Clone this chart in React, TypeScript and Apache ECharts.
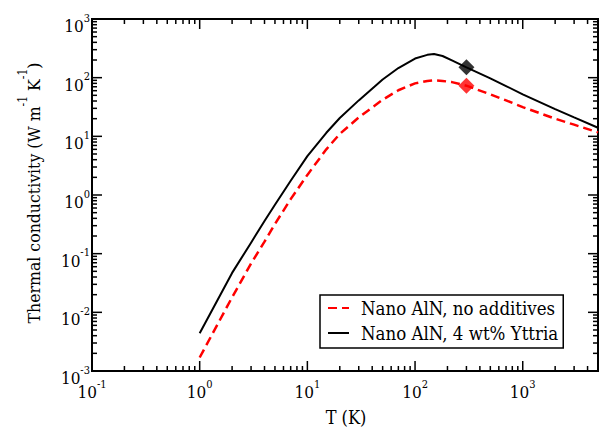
import React, { useEffect, useRef } from "react";
import * as echarts from "echarts";

// ---- Data ----
const temperatureK = [1, 2, 3, 4, 5, 7, 10, 15, 20, 30, 50, 70, 100, 130, 150, 180, 220, 300, 500, 700, 1000, 2000, 3000, 5000];
const kappaNoAdditives = [0.0017, 0.018, 0.068, 0.16, 0.32, 0.85, 2.2, 6.0, 11, 21, 42, 61, 80, 88, 90, 88, 84, 73, 52, 41, 31.5, 20, 15.8, 11.7];
const kappaYttria = [0.0044, 0.047, 0.154, 0.36, 0.68, 1.75, 4.6, 11.5, 20.5, 41, 93, 146, 212, 245, 253, 234, 197, 150, 97, 72, 52, 29, 21, 14];
const markerT = [300];
const markerNoAdditives = [73];
const markerYttria = [150];
const seriesNames = ["Nano AlN, no additives", "Nano AlN, 4 wt% Yttria"];
const xMajorTicks = [0.1, 1, 10, 100, 1000];
const yMajorTicks = [0.001, 0.01, 0.1, 1, 10, 100, 1000];
const minorMultipliers = [2, 3, 4, 5, 6, 7, 8, 9];
const X_MIN = 0.1;
const X_MAX = 5000;
const Y_MIN = 0.001;
const Y_MAX = 1000;
const xTitle = "T (K)";
const yTitle = "Thermal conductivity (W m{s|-1} K{s|-1})";

const FONT = "DejaVu Serif Condensed, DejaVu Serif";
const MAJOR_LEN = 10;
const MINOR_LEN = 5;

const xMinorTicks = xMajorTicks.flatMap((d) => minorMultipliers.map((m) => d * m)).filter((v) => v < X_MAX);
const yMinorTicks = yMajorTicks.slice(0, -1).flatMap((d) => minorMultipliers.map((m) => d * m));

const powerLabel = (v: number) => {
  const e = Math.round(Math.log10(v));
  if (Math.abs(v / Math.pow(10, e) - 1) > 1e-6) return "";
  return `{b|10}{s|${e}}`;
};

const labelRich = {
  b: { fontSize: 17, fontFamily: FONT, fontStyle: "normal", fontWeight: "normal", fill: "#000", lineHeight: 20 },
  s: { fontSize: 11, fontFamily: FONT, fontStyle: "normal", fontWeight: "normal", fill: "#000", padding: [0, 0, 16, 0], lineHeight: 14 },
};

export default function App() {
  const ref = useRef<HTMLDivElement>(null);
  useEffect(() => {
    if (!ref.current) return;
    const chart = echarts.init(ref.current, undefined, { renderer: "svg" });
    const tickStyle = { stroke: "#000", lineWidth: 1.5 };
    const xTickData = [
      ...xMajorTicks.map((v) => [v, 1, MAJOR_LEN]),
      ...xMinorTicks.map((v) => [v, 1, MINOR_LEN]),
    ];
    const yTickData = [
      ...yMajorTicks.map((v) => [1, v, MAJOR_LEN]),
      ...yMinorTicks.map((v) => [1, v, MINOR_LEN]),
    ];
    chart.setOption({
      animation: false,
      backgroundColor: "#fff",
      textStyle: { fontFamily: FONT },
      grid: { left: 92, right: 1, top: 19, bottom: 61, show: true, borderColor: "#000", borderWidth: 2, backgroundColor: "transparent" },
      legend: {
        data: seriesNames,
        orient: "vertical",
        left: 320,
        top: 295,
        borderColor: "#000",
        borderWidth: 1.5,
        borderRadius: 0,
        padding: [3, 5, 5, 7],
        itemWidth: 21,
        itemHeight: 14,
        itemGap: 5,
        selectedMode: false,
        backgroundColor: "#fff",
        itemStyle: { opacity: 0 },
        textStyle: { fontSize: 18.5, fontFamily: FONT, color: "#000", lineHeight: 20, padding: [0, 0, 0, 7] },
      },
      title: {
        text: xTitle,
        left: 346,
        top: 406,
        textAlign: "center",
        padding: 0,
        textStyle: { fontSize: 18, fontFamily: FONT, color: "#000", fontWeight: "normal", lineHeight: 22 },
      },
      graphic: [
        {
          type: "text",
          x: 34,
          y: 193,
          rotation: Math.PI / 2,
          silent: true,
          style: {
            text: yTitle,
            fontSize: 17.5,
            fontFamily: FONT,
            fontStyle: "normal",
            fontWeight: "normal",
            fill: "#000",
            lineHeight: 20,
            align: "center",
            verticalAlign: "middle",
            rich: { s: { fontSize: 12, fontFamily: FONT, fontStyle: "normal", fontWeight: "normal", fill: "#000", padding: [0, 0, 22, 0] } },
          },
        },
      ],
      xAxis: {
        type: "log",
        logBase: 10,
        min: X_MIN,
        max: X_MAX,
        axisLine: { show: false },
        axisTick: { show: false },
        splitLine: { show: false },
        axisLabel: { show: false },
      },
      yAxis: {
        type: "log",
        logBase: 10,
        min: Y_MIN,
        max: Y_MAX,
        axisLine: { show: false },
        axisTick: { show: false },
        splitLine: { show: false },
        axisLabel: { show: false },
      },
      series: [
        {
          name: seriesNames[0],
          type: "line",
          data: temperatureK.map((t, i) => [t, kappaNoAdditives[i]]),
          symbol: "none",
          lineStyle: { color: "#ff0000", width: 2.5, type: [9, 5] },
          itemStyle: { color: "#ff0000" },
          z: 3,
        },
        {
          name: seriesNames[1],
          type: "line",
          data: temperatureK.map((t, i) => [t, kappaYttria[i]]),
          symbol: "none",
          lineStyle: { color: "#000", width: 2 },
          itemStyle: { color: "#000" },
          z: 3,
        },
        {
          name: "marker-red",
          type: "scatter",
          data: markerT.map((t, i) => [t, markerNoAdditives[i]]),
          symbol: "diamond",
          symbolSize: 16,
          itemStyle: { color: "#ff0000" },
          z: 5,
        },
        {
          name: "marker-black",
          type: "scatter",
          data: markerT.map((t, i) => [t, markerYttria[i]]),
          symbol: "diamond",
          symbolSize: 16,
          itemStyle: { color: "#000" },
          z: 5,
        },
        {
          name: "x-ticks",
          type: "custom",
          silent: true,
          clip: false,
          data: xTickData,
          renderItem: (_p: any, api: any) => {
            const v = api.value(0);
            const len = api.value(2);
            const b = api.coord([v, Y_MIN]);
            const t = api.coord([v, Y_MAX]);
            const children: any[] = [
              { type: "line", shape: { x1: b[0], y1: b[1], x2: b[0], y2: b[1] - len }, style: tickStyle },
              { type: "line", shape: { x1: t[0], y1: t[1], x2: t[0], y2: t[1] + len }, style: tickStyle },
            ];
            const label = powerLabel(v);
            if (len === MAJOR_LEN && label) {
              children.push({
                type: "text",
                x: b[0],
                y: b[1] + 21,
                style: { text: label, rich: labelRich, fontSize: 17, fontFamily: FONT, fill: "#000", align: "center", verticalAlign: "middle" },
              });
            }
            return { type: "group", children };
          },
          z: 2,
        },
        {
          name: "y-ticks",
          type: "custom",
          silent: true,
          clip: false,
          data: yTickData,
          renderItem: (_p: any, api: any) => {
            const v = api.value(1);
            const len = api.value(2);
            const l = api.coord([X_MIN, v]);
            const r = api.coord([X_MAX, v]);
            const children: any[] = [
              { type: "line", shape: { x1: l[0], y1: l[1], x2: l[0] + len, y2: l[1] }, style: tickStyle },
              { type: "line", shape: { x1: r[0], y1: r[1], x2: r[0] - len, y2: r[1] }, style: tickStyle },
            ];
            const label = powerLabel(v);
            if (len === MAJOR_LEN && label) {
              children.push({
                type: "text",
                x: l[0] - 2,
                y: l[1] + 7,
                style: { text: label, rich: labelRich, fontSize: 17, fontFamily: FONT, fill: "#000", align: "right", verticalAlign: "middle" },
              });
            }
            return { type: "group", children };
          },
          z: 2,
        },
      ],
    });
    return () => chart.dispose();
  }, []);
  return <div ref={ref} style={{ position: "fixed", left: 0, top: 0, width: 599, height: 432, background: "#fff" }} />;
}
